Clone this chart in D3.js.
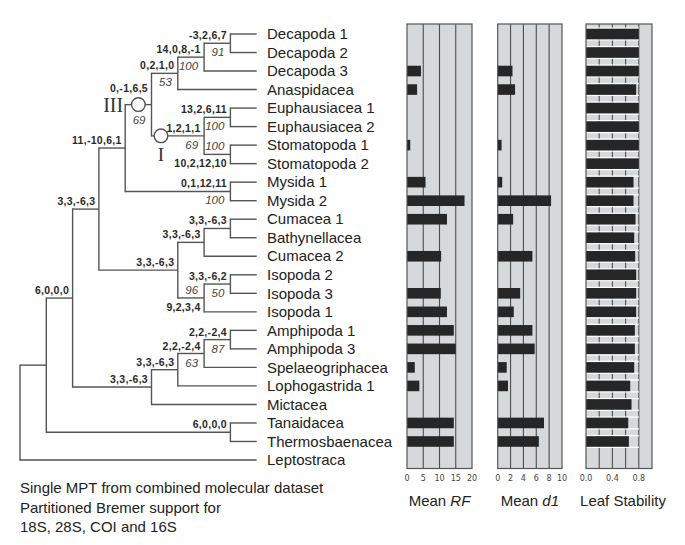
<!DOCTYPE html>
<html><head><meta charset="utf-8">
<script src="https://cdn.jsdelivr.net/npm/d3@7"></script>
<style>
html,body{margin:0;padding:0;background:#fff;}
svg{display:block;font-family:"Liberation Sans",Arial,sans-serif;}
</style></head>
<body><svg id="chart" width="685" height="545"></svg>
<script>
// ---------- DATA ----------
const tree = [
  [
    [
      [
        [
          [
            [[["Decapoda 1","Decapoda 2"],"Decapoda 3"],"Anaspidacea"],
            [["Euphausiacea 1","Euphausiacea 2"],["Stomatopoda 1","Stomatopoda 2"]]
          ],
          ["Mysida 1","Mysida 2"]
        ],
        [[["Cumacea 1","Bathynellacea"],"Cumacea 2"],[["Isopoda 2","Isopoda 3"],"Isopoda 1"]]
      ],
      [[[["Amphipoda 1","Amphipoda 3"],"Spelaeogriphacea"],"Lophogastrida 1"],"Mictacea"]
    ],
    ["Tanaidacea","Thermosbaenacea"]
  ],
  "Leptostraca"
];

const leaves = ["Decapoda 1","Decapoda 2","Decapoda 3","Anaspidacea","Euphausiacea 1","Euphausiacea 2",
  "Stomatopoda 1","Stomatopoda 2","Mysida 1","Mysida 2","Cumacea 1","Bathynellacea","Cumacea 2",
  "Isopoda 2","Isopoda 3","Isopoda 1","Amphipoda 1","Amphipoda 3","Spelaeogriphacea","Lophogastrida 1",
  "Mictacea","Tanaidacea","Thermosbaenacea","Leptostraca"];

// clade = first leaf | last leaf
const supportClades = ["Decapoda 1|Decapoda 2","Decapoda 1|Decapoda 3","Decapoda 1|Anaspidacea",
  "Decapoda 1|Stomatopoda 2","Euphausiacea 1|Stomatopoda 2","Euphausiacea 1|Euphausiacea 2",
  "Stomatopoda 1|Stomatopoda 2","Decapoda 1|Mysida 2","Mysida 1|Mysida 2","Decapoda 1|Isopoda 1",
  "Cumacea 1|Isopoda 1","Cumacea 1|Cumacea 2","Cumacea 1|Bathynellacea","Isopoda 2|Isopoda 3",
  "Isopoda 2|Isopoda 1","Amphipoda 1|Amphipoda 3","Amphipoda 1|Spelaeogriphacea",
  "Amphipoda 1|Lophogastrida 1","Amphipoda 1|Mictacea","Decapoda 1|Mictacea","Tanaidacea|Thermosbaenacea"];
const bremer = ["-3,2,6,7","14,0,8,-1","0,2,1,0","0,-1,6,5","1,2,1,1","13,2,6,11","10,2,12,10",
  "11,-10,6,1","0,1,12,11","3,3,-6,3","3,3,-6,3","3,3,-6,3","3,3,-6,3","3,3,-6,2","9,2,3,4",
  "2,2,-2,4","2,2,-2,4","3,3,-6,3","3,3,-6,3","6,0,0,0","6,0,0,0"];
const bootstrap = ["91","100","53","69","69","100","100","","100","","","","","50","96","87","63","","","",""];
// clades whose bootstrap is written above the branch and Bremer below
const flippedClades = ["Stomatopoda 1|Stomatopoda 2","Isopoda 2|Isopoda 1"];
// circled clades with roman numerals
const circledClades = ["Decapoda 1|Stomatopoda 2","Euphausiacea 1|Stomatopoda 2"];
const circleLabels = ["III","I"];

// bar panels (one value per leaf, same order as leaves)
const meanRF = [0,0,4.3,3.1,0,0,1.0,0,5.7,17.7,12.3,0,10.5,0,10.4,12.3,14.4,15.0,2.4,3.8,0,14.4,14.4,0];
const meanD1 = [0,0,2.3,2.7,0,0,0.6,0,0.7,8.3,2.4,0,5.4,0,3.5,2.5,5.4,5.75,1.4,1.6,0,7.2,6.4,0];
const leafStability = [0.80,0.80,0.80,0.76,0.80,0.80,0.80,0.80,0.72,0.72,0.75,0.73,0.745,0.76,0.76,0.76,
  0.74,0.74,0.73,0.67,0.69,0.64,0.65,0];

const rfTicks = [0,5,10,15,20];
const d1Ticks = [0,2,4,6,8,10];
const lsTicks = [0,0.4,0.8];
const lsGrid = [0.2,0.4,0.6,0.8];

const captionLines = ["Single MPT from combined molecular dataset","Partitioned Bremer support for","18S, 28S, COI and 16S"];

// ---------- LAYOUT ----------
const svg = d3.select("#chart");
const lineColor = "#555";
const y = d3.scalePoint().domain(leaves).range([34, 460]);
const root = d3.hierarchy(tree, d => Array.isArray(d) ? d : null);
const maxH = root.height;
const xLevel = d3.scaleLinear().domain([0, maxH]).range([20, 256.7]);

root.eachAfter(n => {
  n.px = xLevel(maxH - n.height);
  if (n.children) {
    n.py = (n.children[0].py + n.children[n.children.length - 1].py) / 2;
    const lv = n.leaves();
    n.key = lv[0].data + "|" + lv[lv.length - 1].data;
  } else {
    n.py = y(n.data);
    n.key = n.data;
  }
});

const gTree = svg.append("g");
// horizontal branches
root.descendants().filter(n => n.parent).forEach(n => {
  gTree.append("line").attr("x1", n.parent.px).attr("x2", n.px).attr("y1", n.py).attr("y2", n.py)
    .attr("stroke", lineColor).attr("stroke-width", 1.4);
});
// verticals
root.descendants().filter(n => n.children).forEach(n => {
  gTree.append("line").attr("x1", n.px).attr("x2", n.px)
    .attr("y1", n.children[0].py - 0.7).attr("y2", n.children[n.children.length - 1].py + 0.7)
    .attr("stroke", lineColor).attr("stroke-width", 1.4);
});

const nodeByKey = new Map(root.descendants().map(n => [n.key, n]));

// circles
const circleFrac = [0.5, 0.18];
circledClades.forEach((k, i) => {
  const n = nodeByKey.get(k);
  const cx = n.parent.px + (n.px - n.parent.px) * circleFrac[i];
  gTree.append("circle").attr("cx", cx).attr("cy", n.py).attr("r", 6.8)
    .attr("fill", "#fff").attr("stroke", lineColor).attr("stroke-width", 1.4);
  if (i === 0) {
    gTree.append("text").attr("x", n.parent.px - 2).attr("y", n.py + 7.5)
      .attr("text-anchor", "end").attr("font-family", "Liberation Serif, Times New Roman, serif")
      .attr("font-size", 20).attr("fill", "#333").text(circleLabels[i]);
  } else {
    gTree.append("text").attr("x", cx).attr("y", n.py + 25)
      .attr("text-anchor", "middle").attr("font-family", "Liberation Serif, Times New Roman, serif")
      .attr("font-size", 19).attr("fill", "#333").text(circleLabels[i]);
  }
});

// support labels
supportClades.forEach((k, i) => {
  const n = nodeByKey.get(k);
  if (!n) return;
  const flipped = flippedClades.includes(k);
  const circ = circledClades.indexOf(k) === 0;
  const bY = flipped ? n.py + 13 : (circ ? n.py - 13 : n.py - 4);
  const sY = flipped ? n.py - 4 : (circ ? n.py + 19 : n.py + 13);
  gTree.append("text").attr("x", n.px - 3.5).attr("y", bY).attr("text-anchor", "end")
    .attr("font-size", 10.5).attr("font-weight", "bold").attr("fill", "#2a2a2a")
    .attr("letter-spacing", 0.3).text(bremer[i]);
  if (bootstrap[i]) {
    gTree.append("text").attr("x", n.px - 6).attr("y", sY).attr("text-anchor", "end")
      .attr("font-size", 11.5).attr("font-style", "italic").attr("fill", "#444").text(bootstrap[i]);
  }
});

// leaf labels
svg.append("g").selectAll("text").data(leaves).join("text")
  .attr("x", 267).attr("y", d => y(d) + 5.2)
  .attr("font-size", 15).attr("fill", "#222").text(d => d);

// caption
svg.append("g").selectAll("text").data(captionLines).join("text")
  .attr("x", 20).attr("y", (d, i) => 493 + i * 19.5)
  .attr("font-size", 15).attr("fill", "#222").text(d => d);

// ---------- PANELS ----------
const panelTop = 24, panelBottom = 468.5, barH = 10.6;
function panel(x0, x1, domain, values, ticks, grid, fmt, title, italicPart, stability) {
  const x = d3.scaleLinear().domain(domain).range([x0, x1]);
  const g = svg.append("g");
  g.append("rect").attr("x", x0).attr("y", panelTop).attr("width", x1 - x0).attr("height", panelBottom - panelTop)
    .attr("fill", "#d6d9dc");
  g.selectAll("line.grid").data(grid).join("line").attr("class", "grid")
    .attr("x1", d => x(d)).attr("x2", d => x(d)).attr("y1", panelTop).attr("y2", panelBottom)
    .attr("stroke", "#4d4d4d").attr("stroke-width", 1.1);
  const rows = leaves.map((l, i) => ({l, v: values[i]})).filter(d => d.v > 0);
  if (stability) {
    const edges = rows.flatMap(d => [y(d.l) - barH / 2 - 0.6, y(d.l) + barH / 2 + 0.6]);
    g.selectAll("line.gap").data(edges).join("line").attr("class", "gap")
      .attr("x1", x(0)).attr("x2", x(0.8)).attr("y1", d => d).attr("y2", d => d)
      .attr("stroke", "#fff").attr("stroke-width", 1.3);
  }
  g.selectAll("rect.bar").data(rows).join("rect").attr("class", "bar")
    .attr("x", x(0)).attr("y", d => y(d.l) - barH / 2)
    .attr("width", d => x(d.v) - x(0)).attr("height", barH).attr("fill", "#262626");
  g.append("rect").attr("x", x0).attr("y", panelTop).attr("width", x1 - x0).attr("height", panelBottom - panelTop)
    .attr("fill", "none").attr("stroke", "#555").attr("stroke-width", 1.2);
  g.selectAll("text.tick").data(ticks).join("text").attr("class", "tick")
    .attr("x", d => x(d)).attr("y", 480.5).attr("text-anchor", "middle")
    .attr("font-family", "DejaVu Sans, Verdana, sans-serif").attr("font-size", 8).attr("fill", "#444")
    .text(fmt);
  const t = g.append("text").attr("x", (x0 + x1) / 2 + (stability ? 4 : 0)).attr("y", 505.5)
    .attr("text-anchor", "middle").attr("font-size", 15).attr("fill", "#222");
  t.append("tspan").text(title);
  if (italicPart) t.append("tspan").attr("font-style", "italic").text(italicPart);
}
panel(407, 472, [0, 20], meanRF, rfTicks, [5, 10, 15], d => d, "Mean ", "RF", false);
panel(497.7, 562, [0, 10], meanD1, d1Ticks, [2, 4, 6, 8], d => d, "Mean ", "d1", false);
panel(586, 652, [0, 1], leafStability, lsTicks, lsGrid, d => d3.format(".1f")(d), "Leaf Stability", null, true);
</script>
</body></html>
